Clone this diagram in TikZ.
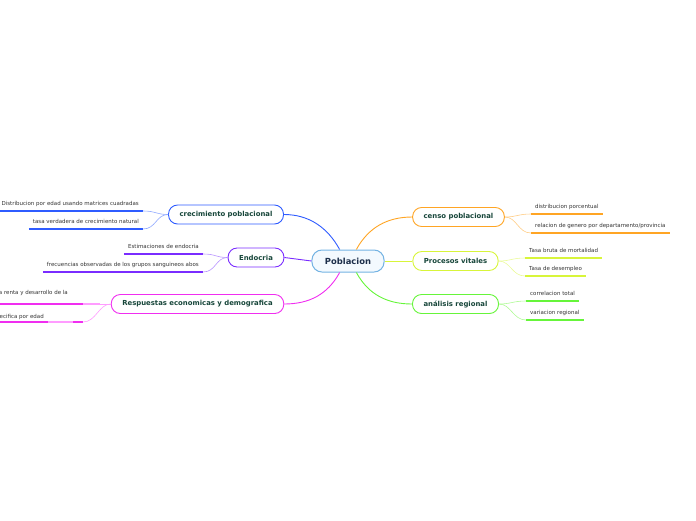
\documentclass[tikz,border=0pt]{standalone}
\usepackage{fontspec}
\setmainfont{DejaVu Sans}
\usetikzlibrary{positioning}
\definecolor{cBlue}{HTML}{2F5CFF}
\definecolor{cBlueL}{HTML}{8FA8FF}
\definecolor{cPurple}{HTML}{7A2CFF}
\definecolor{cPurpleL}{HTML}{B894FF}
\definecolor{cMag}{HTML}{F02EF0}
\definecolor{cMagL}{HTML}{FF9CFF}
\definecolor{cOrange}{HTML}{FFA524}
\definecolor{cOrangeL}{HTML}{FFCD85}
\definecolor{cYellow}{HTML}{D8F53A}
\definecolor{cYellowL}{HTML}{EBFA9C}
\definecolor{cGreen}{HTML}{66F53A}
\definecolor{cGreenL}{HTML}{AEFA94}
\definecolor{rootline}{HTML}{74B3E3}
\definecolor{rootfill}{HTML}{F3F9FE}
\definecolor{rootink}{HTML}{1C2E4A}
\definecolor{topicink}{HTML}{17463A}
\definecolor{subink}{HTML}{333333}

\begin{document}
\begin{tikzpicture}[x=1pt,y=-1pt,
  topic/.style={draw,line width=0.9pt,rounded corners=9pt,fill=white,
    minimum height=19pt,inner xsep=11pt,text=topicink,
    font=\fontsize{6.9}{8}\selectfont\bfseries},
  subtopic/.style={inner xsep=4pt,inner ysep=0pt,text height=4pt,
    text depth=5.6pt,text=subink,font=\fontsize{5.5}{6.5}\selectfont},
  uline/.style={line width=1.3pt},
  branch/.style={line width=0.9pt},
  twig/.style={line width=0.6pt}]
  \useasboundingbox (0,0) rectangle (696,520);

  % Central topic.
  \node[draw=rootline,fill=rootfill,line width=1pt,rounded corners=10pt,
    minimum height=22pt,inner xsep=13pt,text=rootink,
    font=\fontsize{8.4}{9}\selectfont\bfseries] (pob) at (348,261) {Poblacion};

  % Main topics.
  \node[topic,draw=cBlue] (crec) at (226,214.5) {crecimiento poblacional};
  \node[topic,draw=cPurple] (endo) at (256,257.5) {Endocria};
  \node[topic,draw=cMag] (resp) at (197.5,304) {Respuestas economicas y demografica};
  \node[topic,draw=cOrange] (censo) at (458.5,217) {censo poblacional};
  \node[topic,draw=cYellow] (proc) at (455.5,261) {Procesos vitales};
  \node[topic,draw=cGreen] (anal) at (455.5,304) {análisis regional};

  % Branches from the centre.
  \draw[branch,cBlue] (pob.126) .. controls +(-12,-22) and +(25,0) .. (crec.east);
  \draw[branch,cPurple] (pob.west) -- (endo.east);
  \draw[branch,cMag] (pob.-126) .. controls +(-12,22) and +(25,0) .. (resp.east);
  \draw[branch,cOrange] (pob.54) .. controls +(12,-22) and +(-25,0) .. (censo.west);
  \draw[branch,cYellow] (pob.east) -- (proc.west);
  \draw[branch,cGreen] (pob.-54) .. controls +(12,22) and +(-25,0) .. (anal.west);

  % Subtopics on the left.
  \node[subtopic,anchor=south east] (c1) at (143,211) {Distribucion por edad usando matrices cuadradas};
  \node[subtopic,anchor=south east] (c2) at (143,229) {tasa verdadera de crecimiento natural};
  \node[subtopic,anchor=south east] (e1) at (203,254) {Estimaciones de endocria};
  \node[subtopic,anchor=south east] (e2) at (203,272) {frecuencias observadas de los grupos sanguineos abos};
  \node[subtopic,anchor=base east] (r1) at (72,294) {a renta y desarrollo de la};
  \node[subtopic,anchor=base east] (r2) at (48,318) {ecifica por edad};
  \coordinate (r1a) at (-2,304);
  \coordinate (r1b) at (83,304);
  \coordinate (r1c) at (100,304);
  \coordinate (r2a) at (-2,322);
  \coordinate (r2b) at (48,322);
  \coordinate (r2c) at (73,322);
  \coordinate (r2d) at (83,322);

  \foreach \s/\c in {c1/cBlue,c2/cBlue,e1/cPurple,e2/cPurple}{
    \draw[uline,\c] (\s.south west) -- (\s.south east);
  }
  \draw[twig,cBlueL] (c1.south east) .. controls +(13,0) and +(-12,0) .. (crec.west);
  \draw[twig,cBlueL] (c2.south east) .. controls +(13,0) and +(-12,0) .. (crec.west);
  \draw[twig,cPurpleL] (e1.south east) .. controls +(13,0) and +(-12,0) .. (endo.west);
  \draw[twig,cPurpleL] (e2.south east) .. controls +(13,0) and +(-12,0) .. (endo.west);

  \draw[uline,cMag] (r1a) -- (r1b);
  \draw[uline,cMagL] (r1b) -- (r1c);
  \draw[uline,cMag] (r2a) -- (r2b);
  \draw[uline,cMagL] (r2b) -- (r2c);
  \draw[uline,cMag] (r2c) -- (r2d);
  \draw[twig,cMagL] (r1c) -- (resp.west);
  \draw[twig,cMagL] (r2d) .. controls +(13,0) and +(-12,0) .. (resp.west);

  % Subtopics on the right.
  \node[subtopic,anchor=south west] (s1) at (531,214) {distribucion porcentual};
  \node[subtopic,anchor=south west] (s2) at (531,233) {relacion de genero por departamento/provincia};
  \node[subtopic,anchor=south west] (v1) at (525,258) {Tasa bruta de mortalidad};
  \node[subtopic,anchor=south west] (v2) at (525,276) {Tasa de desempleo};
  \node[subtopic,anchor=south west] (a1) at (526,301) {correlacion total};
  \node[subtopic,anchor=south west] (a2) at (526,320) {variacion regional};

  \foreach \s/\c/\l/\t in {s1/cOrange/cOrangeL/censo,s2/cOrange/cOrangeL/censo,
      v1/cYellow/cYellowL/proc,v2/cYellow/cYellowL/proc,
      a1/cGreen/cGreenL/anal,a2/cGreen/cGreenL/anal}{
    \draw[uline,\c] (\s.south west) -- (\s.south east);
    \draw[twig,\l] (\t.east) .. controls +(12,0) and +(-13,0) .. (\s.south west);
  }
\end{tikzpicture}
\end{document}
